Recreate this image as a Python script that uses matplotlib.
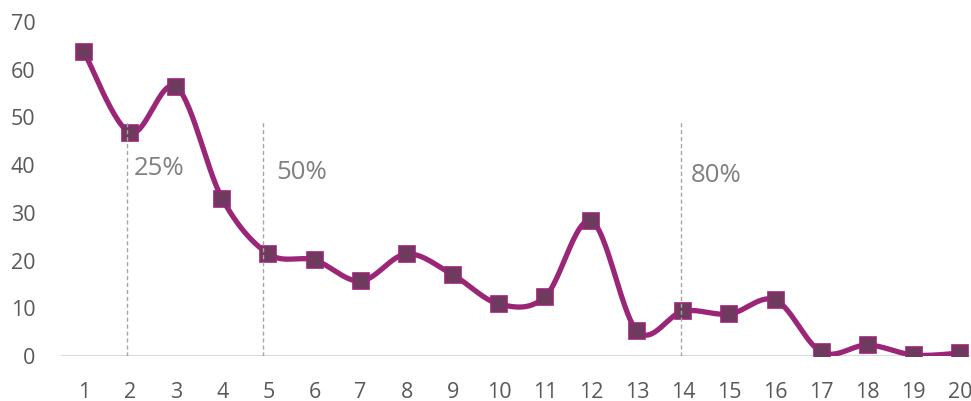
import numpy as np
import matplotlib
matplotlib.use("Agg")
import matplotlib.pyplot as plt

plt.rcParams['font.family'] = ['Open Sans', 'DejaVu Sans']

# data
x = list(range(1, 21))
y = [63.7, 46.8, 56.4, 32.9, 21.4, 20.1, 15.7, 21.4, 17.0, 10.9,
     12.4, 28.3, 5.2, 9.4, 8.8, 11.7, 0.8, 2.3, 0.2, 0.6]
marks_x = [1.94, 4.88, 13.95]
marks_top = 49
marks_lbl = ['25%', '50%', '80%']
lbl_x = [2.07, 5.17, 14.15]
lbl_y = [39.4, 38.4, 37.9]

line_col = '#9B2577'
fill_col = '#6E3A5E'


def smooth(px, py, n=30):
    # excel-like bezier smoothing through the points
    px = np.asarray(px, float)
    py = np.asarray(py, float)
    sx, sy = [], []
    for i in range(len(px) - 1):
        p0 = i - 1 if i > 0 else i
        p3 = i + 2 if i + 2 < len(px) else i + 1
        c1x = px[i] + (px[i + 1] - px[p0]) / 6
        c1y = py[i] + (py[i + 1] - py[p0]) / 6
        c2x = px[i + 1] - (px[p3] - px[i]) / 6
        c2y = py[i + 1] - (py[p3] - py[i]) / 6
        t = np.linspace(0, 1, n)
        bx = (1-t)**3*px[i] + 3*(1-t)**2*t*c1x + 3*(1-t)*t**2*c2x + t**3*px[i+1]
        by = (1-t)**3*py[i] + 3*(1-t)**2*t*c1y + 3*(1-t)*t**2*c2y + t**3*py[i+1]
        sx.extend(bx)
        sy.extend(by)
    return sx, sy


fig = plt.figure(figsize=(9.71, 4.01), dpi=100)
ax = fig.add_axes([61/971, 45/401, 910/971, 334/401])

sx, sy = smooth(x, y)
ax.plot(sx, sy, color=line_col, lw=3.8, zorder=3, solid_capstyle='round')
ax.plot(x, y, ls='none', marker='s', markersize=11.5, markerfacecolor=fill_col,
        markeredgecolor=line_col, markeredgewidth=1.2, zorder=4)

for mx in marks_x:
    ax.plot([mx, mx], [0, marks_top], color='#A6A6A6', lw=1, ls=(0, (3, 2)), zorder=5)
for tx, ty, t in zip(lbl_x, lbl_y, marks_lbl):
    ax.text(tx, ty, t, color='#808080', fontsize=18.5, ha='left', va='center')

ax.axhline(0, color='#D9D9D9', lw=1.5, zorder=1)
ax.set_xlim(0.5, 20.24)
ax.set_ylim(0, 70)
ax.set_xticks(x)
ax.set_yticks(range(0, 71, 10))
ax.tick_params(length=0, labelsize=15.5, labelcolor='#595959')
ax.tick_params(axis='x', pad=18.5)
ax.tick_params(axis='y', pad=18.5)
for s in ax.spines.values():
    s.set_visible(False)
ax.patch.set_alpha(0)

fig.savefig('out.png', dpi=100)
